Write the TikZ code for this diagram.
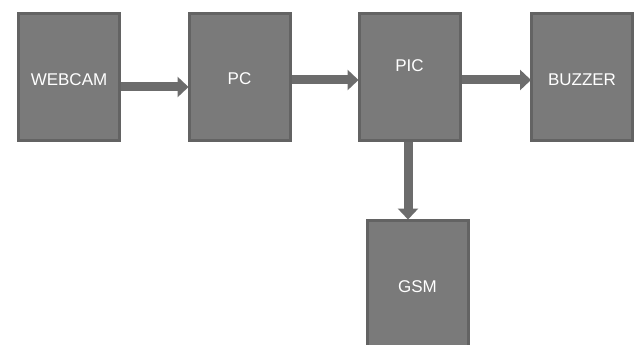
\documentclass[tikz,border=0pt]{standalone}
\usepackage{fontspec}
\setmainfont{Liberation Sans}
\usetikzlibrary{arrows.meta}
\definecolor{boxfill}{HTML}{7A7A7A}
\definecolor{boxline}{HTML}{636363}
\definecolor{arrowc}{HTML}{6C6C6C}
\begin{document}
\begin{tikzpicture}[x=1pt,y=-1pt,
  blk/.style={draw=boxline, fill=boxfill, line width=3pt, minimum width=101pt, minimum height=126pt, inner sep=0pt, text=white, font=\fontsize{17}{18}\selectfont},
  conn/.style={draw=arrowc, line width=9pt, -{Triangle[width=20pt 0 0, length=11pt 0 0]}, shorten >=-1pt}]
\path[use as bounding box, fill=white] (0,0) rectangle (638,345);
\node[blk] (web) at (69,77) {};
\node[blk] (pc) at (239.5,77) {};
\node[blk] (pic) at (409.5,77) {};
\node[blk] (buz) at (582,77) {};
\node[blk] (gsm) at (417.5,283) {};
\node[text=white, font=\fontsize{17}{18}\selectfont] (tweb) at (69,80) {WEBCAM};
\node[text=white, font=\fontsize{17}{18}\selectfont] (tpc) at (239.5,79) {PC};
\node[text=white, font=\fontsize{17}{18}\selectfont] (tpic) at (409.5,66) {PIC};
\node[text=white, font=\fontsize{17}{18}\selectfont] (tbuz) at (582,80) {BUZZER};
\node[text=white, font=\fontsize{17}{18}\selectfont] (tgsm) at (417.5,287) {GSM};
\draw[conn] (web.east |- 0,87) -- (pc.west |- 0,87);
\draw[conn] (pc.east |- 0,80) -- (pic.west |- 0,80);
\draw[conn] (pic.east |- 0,80) -- (buz.west |- 0,80);
\draw[conn] (pic.south -| 408,0) -- (gsm.north -| 408,0);
\end{tikzpicture}
\end{document}
